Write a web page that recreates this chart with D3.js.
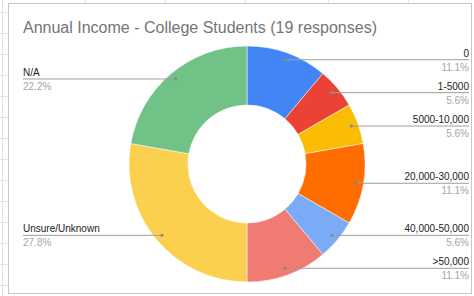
<!DOCTYPE html>
<html>
<head>
<meta charset="utf-8">
<script src="https://cdn.jsdelivr.net/npm/d3@7"></script>
<style>
  html, body { margin: 0; padding: 0; background: #fff; }
  svg { display: block; font-family: "Liberation Sans", Arial, sans-serif; }
</style>
</head>
<body>
<div id="chart"></div>
<script>
  //-- DATA
  var categories = ['0', '1-5000', '5000-10,000', '20,000-30,000', '40,000-50,000', '>50,000', 'Unsure/Unknown', 'N/A'];
  var counts = [2, 1, 1, 2, 1, 2, 5, 4];
  var colors = ['#4285f4', '#ea4335', '#fbbc04', '#ff6d01', '#7baaf7', '#f07b72', '#fcd04f', '#71c287'];
  var title = 'Annual Income - College Students (19 responses)';

  //-- SIZE
  var W = 474, H = 296;
  var cx = 247, cy = 164, outerR = 118, innerR = 59, dotR = 111;

  var svg = d3.select('#chart').append('svg')
    .attr('width', W)
    .attr('height', H);

  //-- SPREADSHEET GRID BEHIND THE CHART
  var grid = svg.append('g').attr('stroke', '#e2e2e2').attr('stroke-width', 1);
  [85, 165, 245, 328, 408].forEach(function(x) {
    grid.append('line').attr('x1', x + 0.5).attr('x2', x + 0.5).attr('y1', 0).attr('y2', 3);
  });
  d3.range(12, H, 21).forEach(function(y) {
    grid.append('line').attr('x1', 0).attr('x2', 8).attr('y1', y + 0.5).attr('y2', y + 0.5);
  });
  grid.append('line').attr('x1', 2.5).attr('x2', 2.5).attr('y1', 0).attr('y2', H);

  //-- CHART BOX
  svg.append('rect')
    .attr('x', 8.5).attr('y', 3.5)
    .attr('width', 463).attr('height', 290)
    .attr('fill', '#fff')
    .attr('stroke', '#c6c6c6');

  //-- TITLE
  svg.append('text')
    .attr('x', 23).attr('y', 33)
    .attr('fill', '#757575')
    .style('font-size', '16px')
    .text(title);

  //-- PIE
  var total = d3.sum(counts);
  var pie = d3.pie().sort(null).value(function(d) { return d; });
  var arcs = pie(counts);
  var arc = d3.arc().innerRadius(innerR).outerRadius(outerR);
  var pct = d3.format('.1%');

  var g = svg.append('g').attr('transform', 'translate(' + cx + ',' + cy + ')');

  g.selectAll('path.slice')
    .data(arcs)
    .enter().append('path')
    .attr('class', 'slice')
    .attr('d', arc)
    .attr('fill', function(d, i) { return colors[i]; })
    .attr('stroke', '#fff')
    .attr('stroke-width', 0.5);

  //-- LABELS WITH LEADER LINES
  var labels = svg.append('g');
  arcs.forEach(function(d, i) {
    var mid = (d.startAngle + d.endAngle) / 2;
    var px = cx + dotR * Math.sin(mid);
    var py = cy - dotR * Math.cos(mid);
    var right = mid < Math.PI;
    var lx = right ? 469 : 23;

    labels.append('line')
      .attr('x1', px).attr('x2', lx)
      .attr('y1', py).attr('y2', py)
      .attr('stroke', '#9e9e9e')
      .attr('stroke-width', 1);

    labels.append('circle')
      .attr('cx', px).attr('cy', py).attr('r', 1.6)
      .attr('fill', '#8a8a8a');

    labels.append('text')
      .attr('x', lx).attr('y', py - 3)
      .attr('text-anchor', right ? 'end' : 'start')
      .attr('fill', '#222')
      .style('font-size', '10px')
      .text(categories[i]);

    labels.append('text')
      .attr('x', lx).attr('y', py + 11)
      .attr('text-anchor', right ? 'end' : 'start')
      .attr('fill', '#a6a6a6')
      .style('font-size', '10px')
      .text(pct(counts[i] / total));
  });
</script>
</body>
</html>
